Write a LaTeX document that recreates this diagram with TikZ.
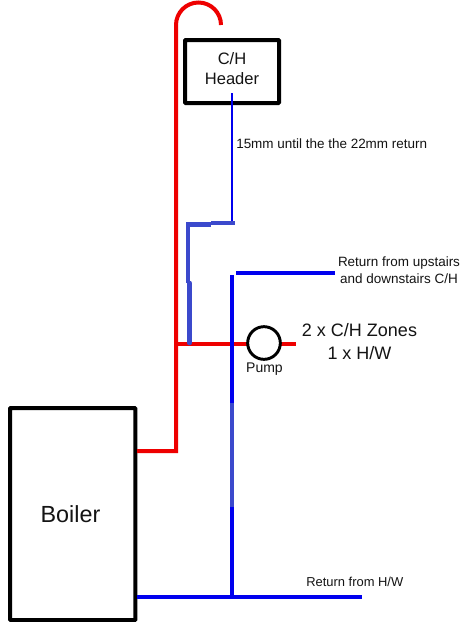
\documentclass[tikz,border=0pt]{standalone}
\usepackage{fontspec}
\setmainfont{Liberation Sans}
\definecolor{pipered}{HTML}{EE0000}
\definecolor{pipeblue}{HTML}{0000EE}
\definecolor{paleblue}{HTML}{3B49CC}
\tikzset{
 box/.style={draw=black,line width=3pt,fill=white,rounded corners=0.6pt,inner sep=0pt,outer sep=0pt,anchor=north west},
 hot/.style={draw=pipered,line width=3pt},
 cold/.style={draw=pipeblue,line width=3pt},
 pale/.style={draw=paleblue,line width=3.4pt},
 thin blue/.style={draw=pipeblue,line width=1.6pt},
 lbl/.style={inner sep=0pt,align=center,text=black!92}
}
\begin{document}
\begin{tikzpicture}[x=0.75pt,y=-0.75pt]
\useasboundingbox (0,0) rectangle (467,622);
\fill[white] (0,0) rectangle (467,622);
% coordinates
\coordinate (hotbase) at (137,451);
\coordinate (hotcorner) at (176,451);
\coordinate (hottop) at (176,25);
\coordinate (tee) at (176,343.5);
\coordinate (pumpout) at (296,343.5);
\coordinate (hdrdrop) at (232,223);
\coordinate (hdrstart) at (232,93);
\coordinate (palecorner) at (188,224.5);
\coordinate (palestepA) at (211,224.5);
\coordinate (palestepB) at (211,223);
\coordinate (paleend) at (235,223);
\coordinate (palemid) at (188,283);
\coordinate (palejoinA) at (189.5,283);
\coordinate (palejoinB) at (189.5,343);
\coordinate (rettop) at (232,275);
\coordinate (retbot) at (232,597);
\coordinate (rethA) at (236,273);
\coordinate (rethB) at (335,273);
\coordinate (hwA) at (137,597);
\coordinate (hwB) at (362,597);
\coordinate (paleA) at (232,403);
\coordinate (paleB) at (232,507);
% boxes
\node[box,minimum width=70.5pt,minimum height=47.25pt] (header) at (185,40) {};
\node[box,minimum width=94.1pt,minimum height=159pt] (boiler) at (10,408) {};
% red
\draw[hot] (hotbase) -- (hotcorner) -- (hottop) arc[start angle=180,end angle=360,x radius=22.5,y radius=22.5];
\draw[hot] (tee) -- (pumpout);
% blue
\draw[cold] (rettop) -- (retbot);
\draw[cold] (rethA) -- (rethB);
\draw[cold] (hwA) -- (hwB);
\draw[draw=paleblue,line width=3pt] (paleA) -- (paleB);
\draw[thin blue] (hdrstart) -- (hdrdrop);
\draw[pale,line join=miter] (palemid) -- (palecorner) -- (palestepA);
\draw[pale] (palestepB) -- (paleend);
\draw[pale,line cap=round] (palejoinA) -- (palejoinB);
% pump
\node[circle,draw=black,line width=2.2pt,fill=white,minimum size=24.5pt,inner sep=0pt] (pump) at (264,343) {};
% labels
\node[lbl,font=\fontsize{12.4}{15}\selectfont] (hdrtext) at (232,68.5) {C/H\\Header};
\node[lbl,font=\fontsize{17.5}{20}\selectfont] (boilertext) at (70.5,514) {Boiler};
\node[lbl,font=\fontsize{10.1}{12}\selectfont,anchor=west] (size) at (236,144) {15mm until the the 22mm return};
\node[lbl,font=\fontsize{10.1}{12.75}\selectfont] (up) at (399,270.5) {Return from upstairs\\and downstairs C/H};
\node[lbl,font=\fontsize{13.5}{17}\selectfont] (zones) at (359.5,341.5) {2 x C/H Zones\\1 x H/W};
\node[lbl,font=\fontsize{10.5}{12}\selectfont] (pumptext) at (264.5,369.5) {Pump};
\node[lbl,font=\fontsize{9.7}{11}\selectfont,anchor=west] (hw) at (306,582) {Return from H/W};
\end{tikzpicture}
\end{document}
